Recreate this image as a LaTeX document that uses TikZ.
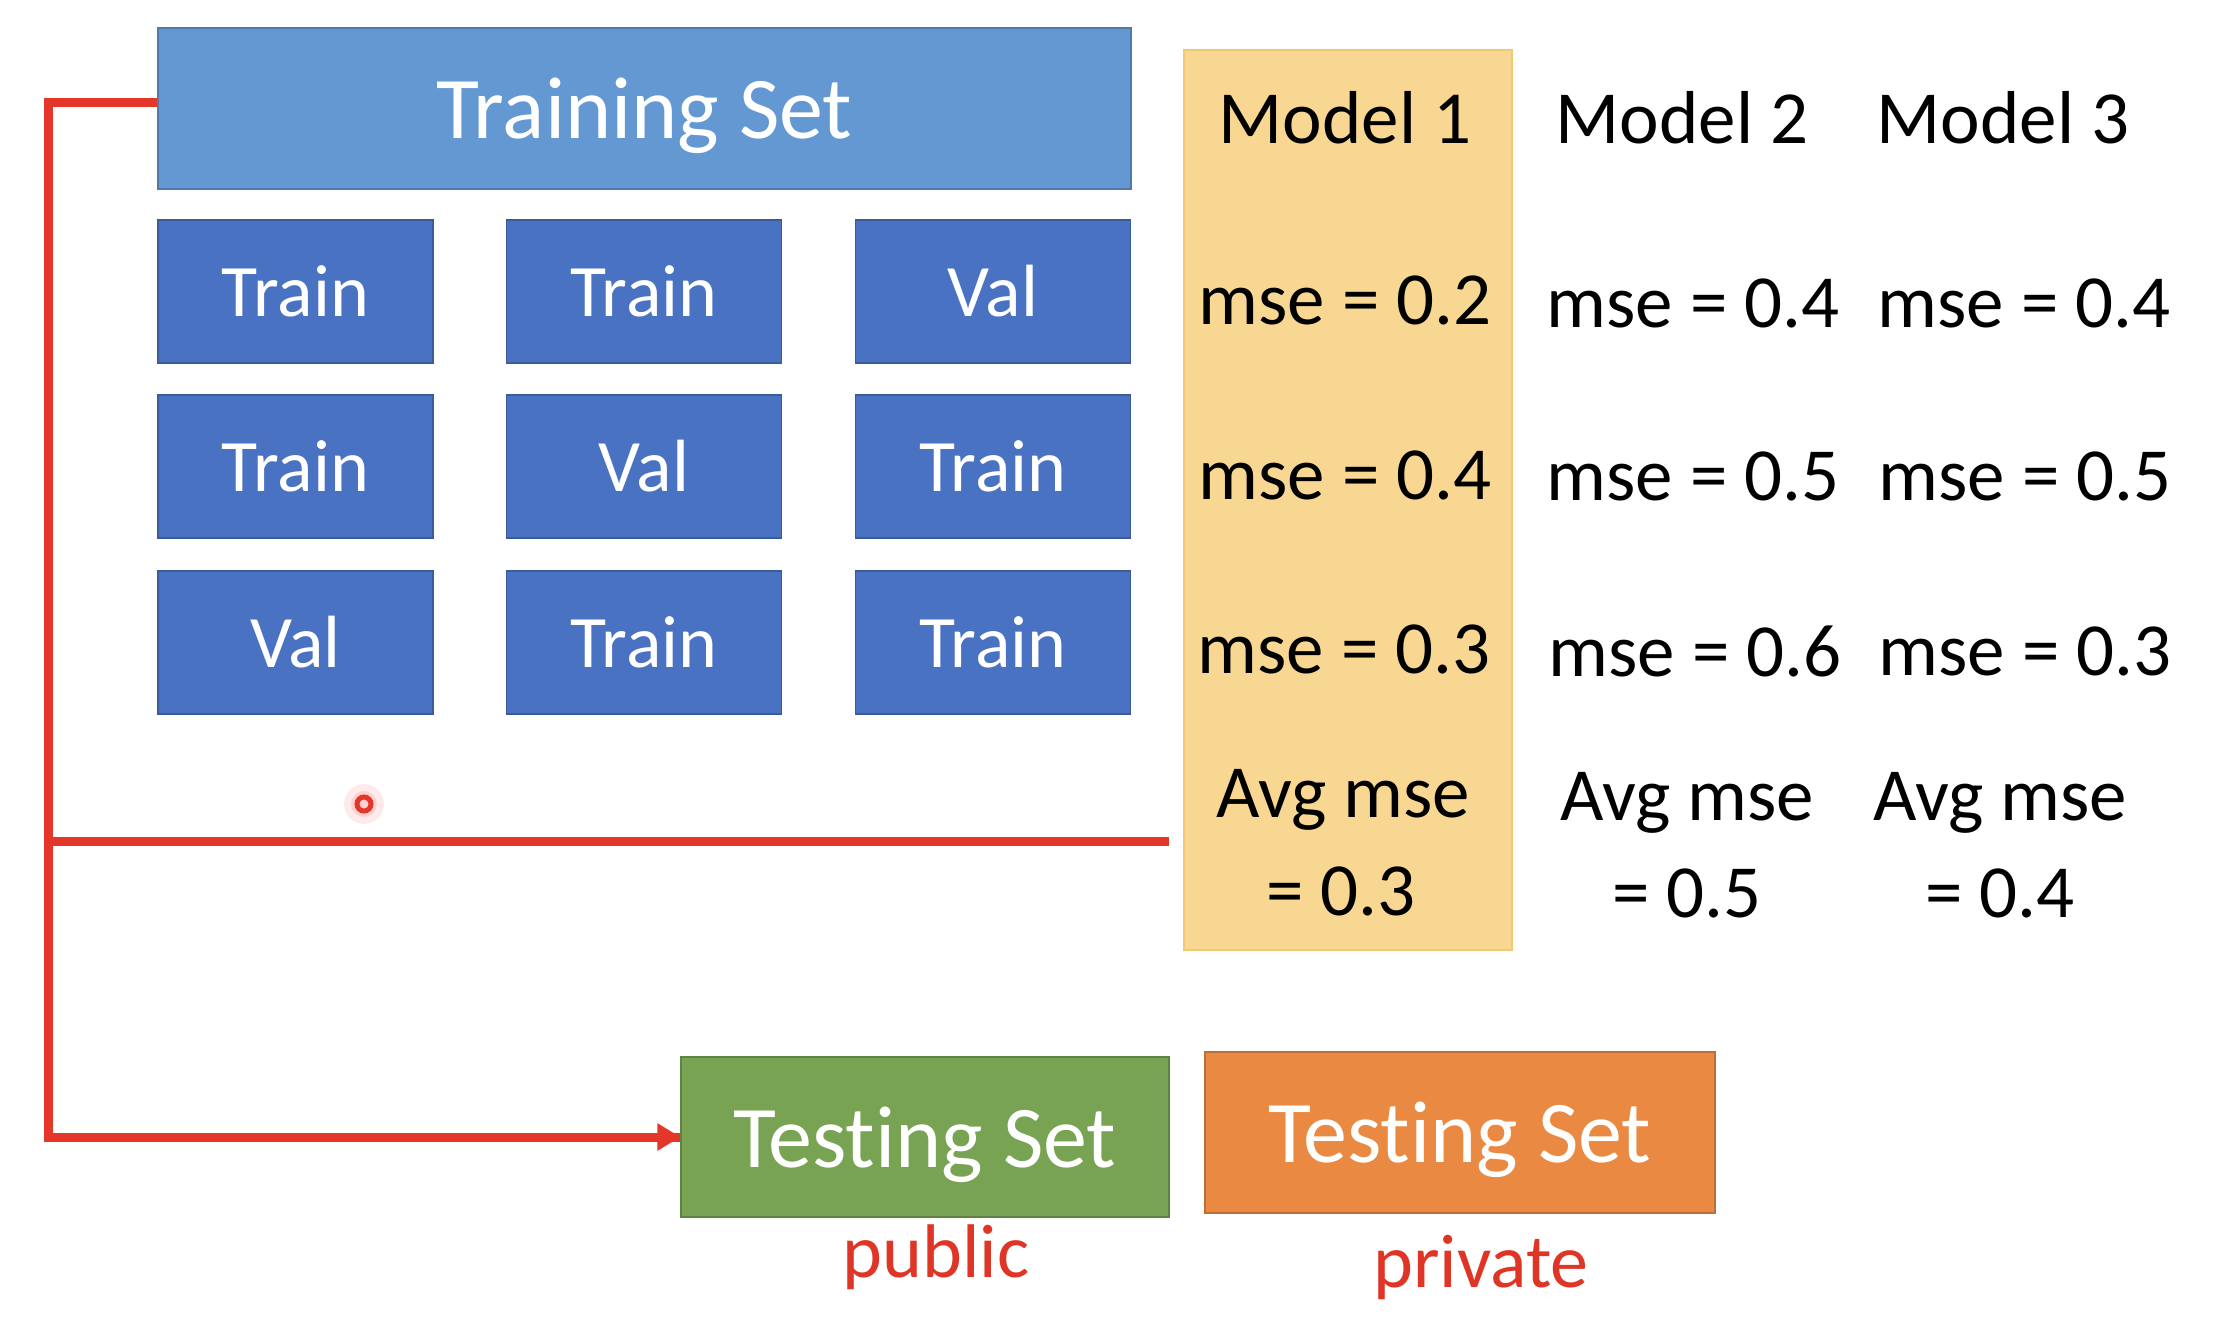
\documentclass[tikz,border=0pt]{standalone}
\usepackage{fontspec}
\setmainfont{Carlito}[Ligatures=NoCommon]
\usetikzlibrary{arrows.meta}
\definecolor{tsblue}{HTML}{6498D2}
\definecolor{boxblue}{HTML}{4A72C2}
\definecolor{tgreen}{HTML}{78A352}
\definecolor{torange}{HTML}{EA8A42}
\definecolor{ybox}{HTML}{F8D792}
\definecolor{yedge}{HTML}{F3C873}
\definecolor{redline}{HTML}{E5362A}
\definecolor{redtext}{HTML}{DF3526}
\tikzset{
  setbox/.style={rectangle, fill=#1, draw=#1!80!black, line width=0.6pt, text=white, inner sep=0pt},
  foldbox/.style={setbox=boxblue, minimum width=137.5pt, minimum height=71.5pt, font=\fontsize{37}{40}\selectfont},
  mtext/.style={inner sep=0pt, font=\fontsize{37.5}{40}\selectfont, text=black},
  redlbl/.style={inner sep=0pt, font=\fontsize{38}{40}\selectfont, text=redtext},
  redconn/.style={draw=redline, line width=4.5pt}
}
\begin{document}
\begin{tikzpicture}[x=0.5pt,y=-0.5pt]
\path[use as bounding box] (0,0) rectangle (2220,1324);
% yellow highlight
\node[rectangle, fill=ybox, draw=yedge, line width=1pt, minimum width=164pt, minimum height=450pt, inner sep=0pt] (ybg) at (1348,500) {};
% training set
\node[setbox=tsblue, minimum width=486.5pt, minimum height=80.5pt, text depth=0pt, font=\fontsize{44}{46}\selectfont] (ts) at (644.5,108.5) {Training Set};
% folds
\node[foldbox] (f11) at (295.5,291.5) {Train};
\node[foldbox] (f12) at (644,291.5) {Train};
\node[foldbox] (f13) at (993,291.5) {Val};
\node[foldbox] (f21) at (295.5,466.5) {Train};
\node[foldbox] (f22) at (644,466.5) {Val};
\node[foldbox] (f23) at (993,466.5) {Train};
\node[foldbox] (f31) at (295.5,642.5) {Val};
\node[foldbox] (f32) at (644,642.5) {Train};
\node[foldbox] (f33) at (993,642.5) {Train};
% model columns
\node[mtext] (m1) at (1345,118) {Model 1};
\node[mtext] (m2) at (1682,118) {Model 2};
\node[mtext] (m3) at (2003,118) {Model 3};
\node[mtext] (e11) at (1345,300) {mse = 0.2};
\node[mtext] (e12) at (1693,303) {mse = 0.4};
\node[mtext] (e13) at (2024,303) {mse = 0.4};
\node[mtext] (e21) at (1345,475) {mse = 0.4};
\node[mtext] (e22) at (1693,476) {mse = 0.5};
\node[mtext] (e23) at (2025,476) {mse = 0.5};
\node[mtext] (e31) at (1344,649) {mse = 0.3};
\node[mtext] (e32) at (1695,651) {mse = 0.6};
\node[mtext] (e33) at (2025,651) {mse = 0.3};
\node[mtext] (a1) at (1343,800) {Avg mse};
\node[mtext] (a2) at (1687,803) {Avg mse};
\node[mtext] (a3) at (2000,803) {Avg mse};
\node[mtext] (v1) at (1341,891) {= 0.3};
\node[mtext] (v2) at (1687,893) {= 0.5};
\node[mtext] (v3) at (2000,893) {= 0.4};
% testing sets
\node[setbox=tgreen, minimum width=244pt, minimum height=80pt, text depth=0pt, font=\fontsize{44}{46}\selectfont] (tpub) at (925,1137) {Testing Set};
\node[setbox=torange, minimum width=255pt, minimum height=80.5pt, text depth=0pt, font=\fontsize{44}{46}\selectfont] (tpriv) at (1460,1132.5) {Testing Set};
\node[redlbl] (lpub) at (936,1257) {public};
\node[redlbl] (lpriv) at (1481,1267) {private};
% red connectors
\coordinate (ctop) at (48,102);
\coordinate (cmid) at (48,841);
\coordinate (cend) at (1169,841);
\draw[redconn] (ts.west |- ctop) -- (ctop) |- (tpub.west);
\draw[redconn, -{Triangle[length=11.5pt,width=13pt]}] (cmid) |- (tpub.west);
\draw[redconn] (cmid) -- (cend);
% laser pointer mark
\fill[red!8] (364,804) circle (20);
\fill[red!18] (364,804) circle (13);
\draw[redline, line width=2.5pt] (364,804) circle (7);
\end{tikzpicture}
\end{document}
